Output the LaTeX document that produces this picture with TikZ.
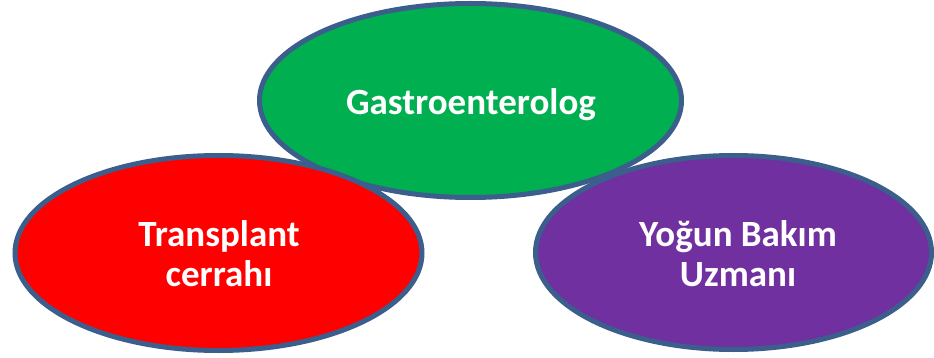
\documentclass[tikz,border=0pt]{standalone}
\usepackage{fontspec}
\setmainfont{Carlito}
\usetikzlibrary{shapes.geometric}
\definecolor{bord}{HTML}{3B5E8C}
\definecolor{gfill}{HTML}{00B050}
\definecolor{rfill}{HTML}{FF0000}
\definecolor{pfill}{HTML}{7030A0}
\tikzset{
  blob/.style={ellipse, draw=bord, line width=5pt, inner sep=0pt},
  lbl/.style={text=white, align=center, inner sep=0pt,
    font=\bfseries\fontsize{37}{40}\selectfont}
}
\begin{document}
\begin{tikzpicture}[x=1pt,y=-1pt]
\useasboundingbox (0,0) rectangle (934,358);
\node[blob, fill=pfill, minimum width=396pt, minimum height=194pt] (icu) at (733.5,252.5) {};
\node[blob, fill=gfill, minimum width=422pt, minimum height=194pt] (gastro) at (470.5,100.5) {};
\node[blob, fill=rfill, minimum width=407pt, minimum height=195pt] (surg) at (218.5,253) {};
\node[lbl] (icuT) at (738,254) {Yoğun Bakım\\Uzmanı};
\node[lbl] (gastroT) at (471,105) {Gastroenterolog};
\node[lbl] (surgT) at (219,254) {Transplant\\cerrahı};
\end{tikzpicture}
\end{document}
